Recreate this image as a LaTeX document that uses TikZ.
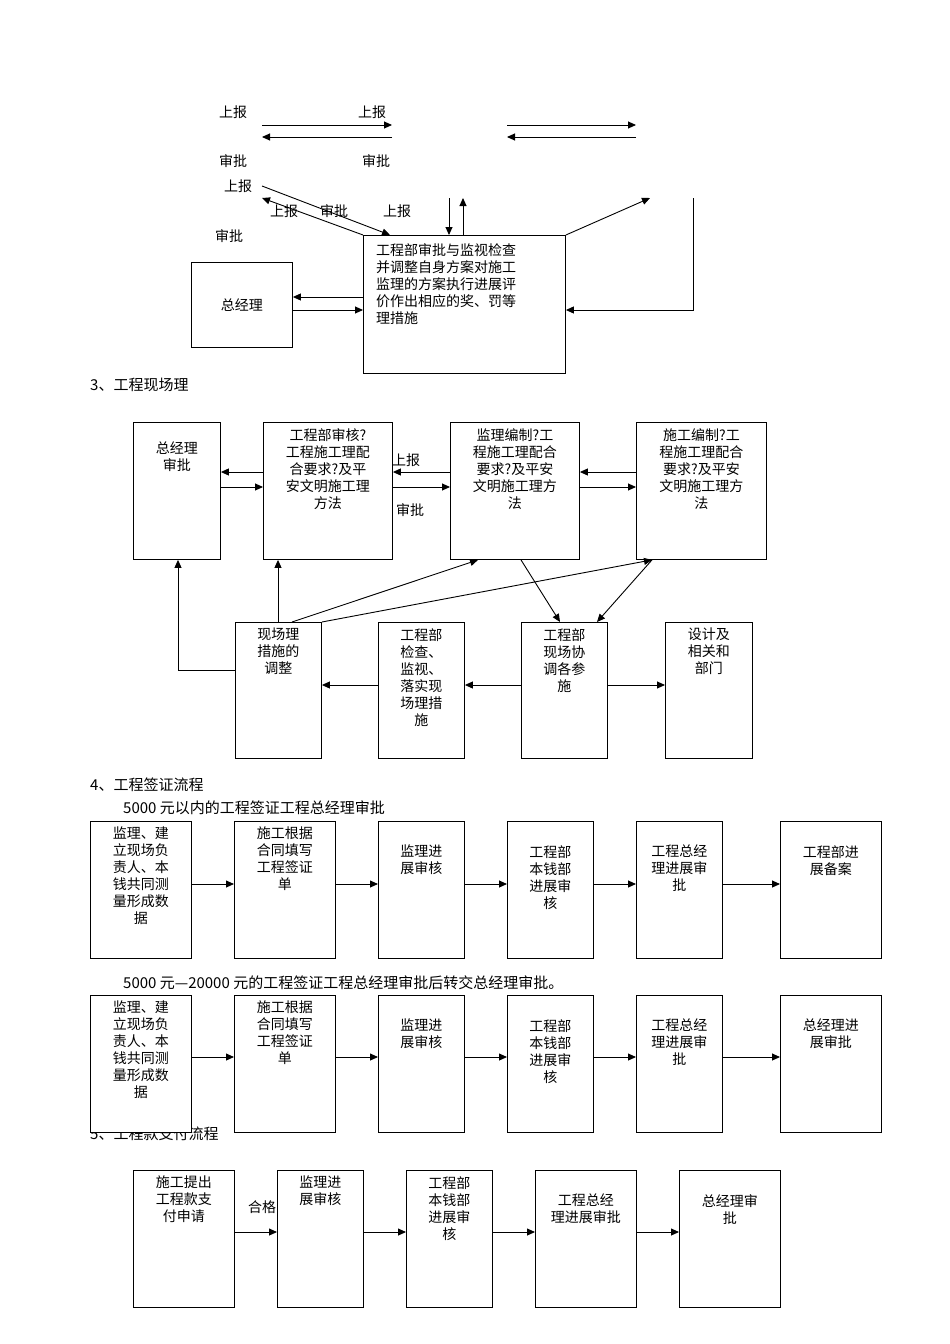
\documentclass[tikz,border=0pt]{standalone}
\usepackage{fontspec}
\setmainfont{Noto Sans CJK SC}
\usetikzlibrary{arrows.meta}
\tikzset{
 box/.style={draw,line width=0.9pt,fill=white,inner sep=0pt},
 txt/.style={align=center,inner sep=0pt,font=\fontsize{14}{17}\selectfont},
 lab/.style={inner sep=0pt,font=\fontsize{14}{17}\selectfont},
 ar/.style={line width=0.9pt,-{Triangle[length=8pt,width=7pt]}},
 ln/.style={line width=0.9pt}
}
\newcommand\bx[7]{\node[box,anchor=north west,minimum width={#4-#2},minimum height={#5-#3}] (#1) at (#2,#3) {};
 \node[txt,anchor=north] at ([yshift=-#7]#1.north) {#6};}
\begin{document}
\begin{tikzpicture}[x=1pt,y=-1pt]
\useasboundingbox[fill=white] (0,0) rectangle (950,1344);
% ---- top section
\node[box,anchor=north west,minimum width=101,minimum height=85] (gm) at (191,262) {};
\node[lab] at (gm.center) {总经理};
\node[box,anchor=north west,minimum width=202,minimum height=138] (big) at (363,235) {};
\node[txt,anchor=north west,align=left] at (376,243) {工程部审批与监视检查\\并调整自身方案对施工\\监理的方案执行进展评\\价作出相应的奖、罚等\\理措施};
\draw[ar] (big.west |- 0,297) -- (gm.east |- 0,297);
\draw[ar] (gm.east |- 0,310) -- (big.west |- 0,310);
\coordinate (t1) at (262,125); \coordinate (t2) at (392,125);
\coordinate (t3) at (262,137); \coordinate (t4) at (392,137);
\draw[ar] (t1) -- (t2); \draw[ar] (t4) -- (t3);
\coordinate (t5) at (507,125); \coordinate (t6) at (636,125);
\coordinate (t7) at (507,137); \coordinate (t8) at (636,137);
\draw[ar] (t5) -- (t6); \draw[ar] (t8) -- (t7);
\coordinate (d1) at (262,186); \coordinate (d2) at (262,198);
\draw[ar] (d1) -- (big.north west -| 390,0);
\draw[ar] (big.north west) -- (d2);
\coordinate (v1) at (449,198); \coordinate (v2) at (463,198);
\draw[ar] (v1) -- (big.north -| v1);
\draw[ar] (big.north -| v2) -- (v2);
\coordinate (r1) at (650,198); \coordinate (r2) at (693,198);
\draw[ar] (big.north east) -- (r1);
\draw[ar] (r2) -- (693,310) -- (big.east |- 0,310);
\node[lab] at (233,112) {上报}; \node[lab] at (372,112) {上报};
\node[lab] at (233,161) {审批}; \node[lab] at (376,161) {审批};
\node[lab] at (238,186) {上报}; \node[lab] at (284,211) {上报};
\node[lab] at (334,211) {审批}; \node[lab] at (397,211) {上报};
\node[lab] at (229,236) {审批};
% ---- section 3
\node[lab,anchor=west,font=\fontsize{15}{17}\selectfont] at (90,385) {3、工程现场理};
\bx{A}{133}{422}{220}{559}{总经理\\审批}{20}
\bx{B}{263}{422}{392}{559}{工程部审核?\\工程施工理配\\合要求?及平\\安文明施工理\\方法}{6}
\bx{C}{450}{422}{579}{559}{监理编制?工\\程施工理配合\\要求?及平安\\文明施工理方\\法}{6}
\bx{D}{636}{422}{766}{559}{施工编制?工\\程施工理配合\\要求?及平安\\文明施工理方\\法}{6}
\bx{E}{235}{622}{321}{758}{现场理\\措施的\\调整}{6}
\bx{F}{378}{622}{464}{758}{工程部\\检查、\\监视、\\落实现\\场理措\\施}{6}
\bx{G}{521}{622}{607}{758}{工程部\\现场协\\调各参\\施}{6}
\bx{H}{665}{622}{752}{758}{设计及\\相关和\\部门}{6}
\draw[ar] (B.west |- 0,472) -- (A.east |- 0,472);
\draw[ar] (A.east |- 0,487) -- (B.west |- 0,487);
\draw[ar] (C.west |- 0,472) -- (B.east |- 0,472);
\draw[ar] (B.east |- 0,487) -- (C.west |- 0,487);
\draw[ar] (D.west |- 0,472) -- (C.east |- 0,472);
\draw[ar] (C.east |- 0,487) -- (D.west |- 0,487);
\node[lab] at (406,460) {上报}; \node[lab] at (410,510) {审批};
\draw[ar] (E.north -| 278,0) -- (B.south -| 278,0);
\draw[ar] (E.west |- 0,670) -- (178,670) -- (A.south -| 178,0);
\draw[ar] (E.north -| 292,0) -- (C.south -| 478,0);
\draw[ar] (E.north east) -- (D.south -| 652,0);
\draw[ar] (C.south -| 521,0) -- (G.north -| 560,0);
\draw[ar] (D.south -| 652,0) -- (G.north -| 597,0);
\draw[ar] (G.west |- 0,685) -- (F.east |- 0,685);
\draw[ar] (F.west |- 0,685) -- (E.east |- 0,685);
\draw[ar] (G.east |- 0,685) -- (H.west |- 0,685);
% ---- section 4
\node[lab,anchor=west,font=\fontsize{15}{17}\selectfont] at (90,785) {4、工程签证流程};
\node[lab,anchor=west,font=\fontsize{15}{17}\selectfont] at (123,808) {5000 元以内的工程签证工程总经理审批};
\bx{p1}{90}{821}{191}{958}{监理、建\\立现场负\\责人、本\\钱共同测\\量形成数\\据}{6}
\bx{p2}{234}{821}{335}{958}{施工根据\\合同填写\\工程签证\\单}{6}
\bx{p3}{378}{821}{464}{958}{监理进\\展审核}{24}
\bx{p4}{507}{821}{593}{958}{工程部\\本钱部\\进展审\\核}{24}
\bx{p5}{636}{821}{722}{958}{工程总经\\理进展审\\批}{24}
\bx{p6}{780}{821}{881}{958}{工程部进\\展备案}{24}
\foreach \a/\b in {p1/p2,p2/p3,p3/p4,p4/p5,p5/p6}{\draw[ar] (\a.east |- 0,884) -- (\b.west |- 0,884);}
\node[lab,anchor=west,font=\fontsize{15}{17}\selectfont] at (123,983) {5000 元—20000 元的工程签证工程总经理审批后转交总经理审批。};
\node[lab,anchor=west,font=\fontsize{15}{17}\selectfont] at (90,1134) {5、工程款支付流程};
\bx{q1}{90}{995}{191}{1132}{监理、建\\立现场负\\责人、本\\钱共同测\\量形成数\\据}{6}
\bx{q2}{234}{995}{335}{1132}{施工根据\\合同填写\\工程签证\\单}{6}
\bx{q3}{378}{995}{464}{1132}{监理进\\展审核}{24}
\bx{q4}{507}{995}{593}{1132}{工程部\\本钱部\\进展审\\核}{24}
\bx{q5}{636}{995}{722}{1132}{工程总经\\理进展审\\批}{24}
\bx{q6}{780}{995}{881}{1132}{总经理进\\展审批}{24}
\foreach \a/\b in {q1/q2,q2/q3,q3/q4,q4/q5,q5/q6}{\draw[ar] (\a.east |- 0,1057) -- (\b.west |- 0,1057);}
% ---- section 5
\bx{s1}{133}{1170}{234}{1307}{施工提出\\工程款支\\付申请}{6}
\bx{s2}{277}{1170}{363}{1307}{监理进\\展审核}{6}
\bx{s3}{406}{1170}{492}{1307}{工程部\\本钱部\\进展审\\核}{6}
\bx{s4}{535}{1170}{636}{1307}{工程总经\\理进展审批}{24}
\bx{s5}{679}{1170}{780}{1307}{总经理审\\批}{24}
\foreach \a/\b in {s1/s2,s2/s3,s3/s4,s4/s5}{\draw[ar] (\a.east |- 0,1232) -- (\b.west |- 0,1232);}
\node[lab,fill=white] at (262,1207) {合格};
\end{tikzpicture}
\end{document}
